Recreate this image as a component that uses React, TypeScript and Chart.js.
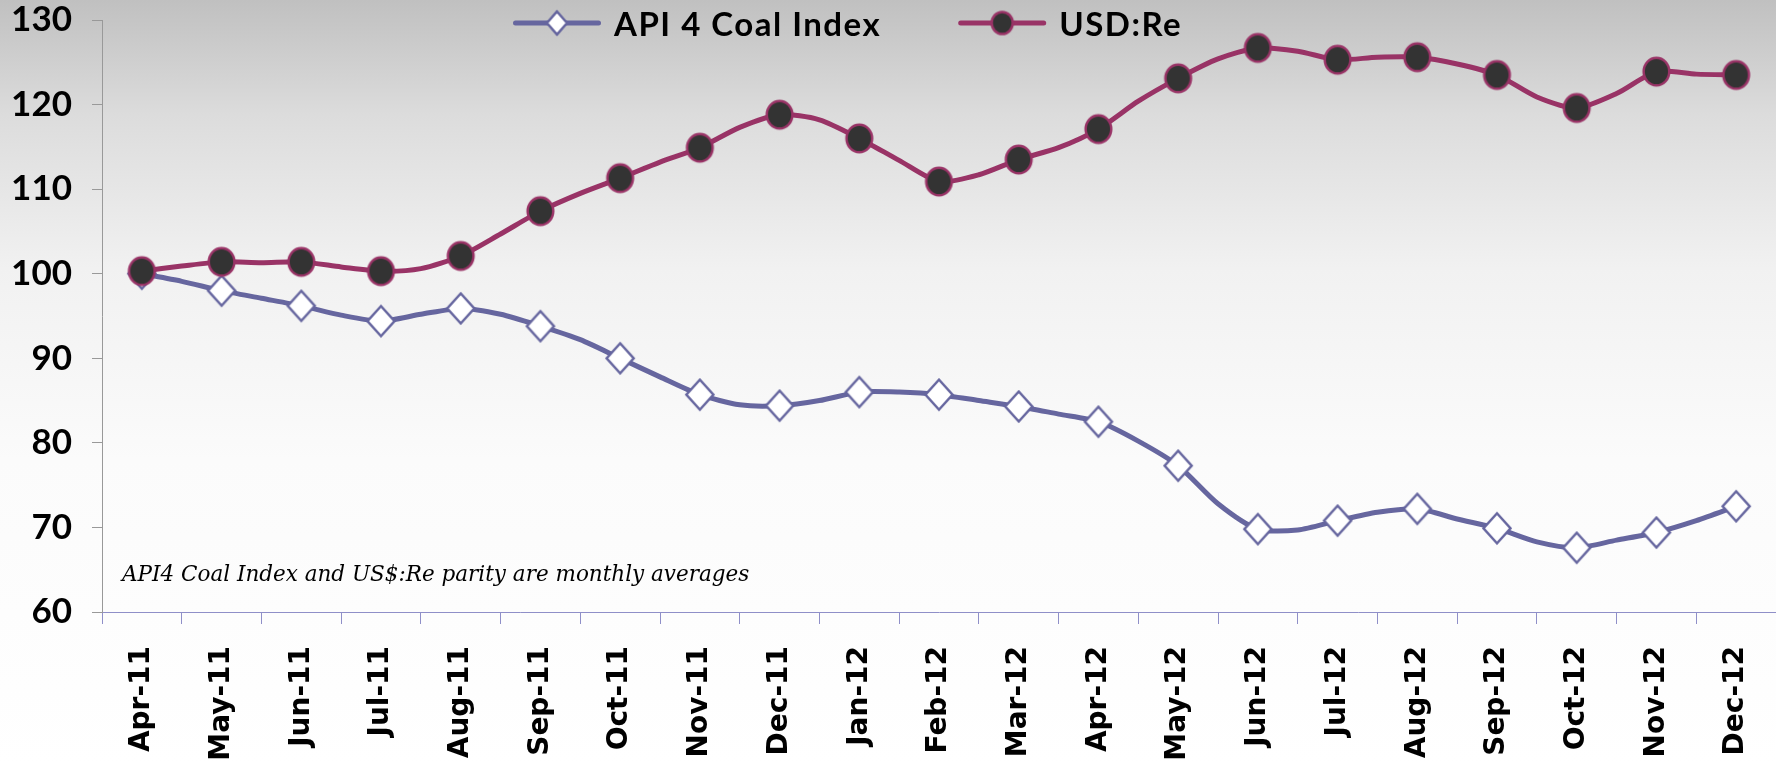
import React, { useEffect, useRef } from 'react';
import { Chart, registerables } from 'chart.js';

Chart.register(...registerables);

// ---- data ----
const months = [
  'Apr-11', 'May-11', 'Jun-11', 'Jul-11', 'Aug-11', 'Sep-11', 'Oct-11', 'Nov-11', 'Dec-11',
  'Jan-12', 'Feb-12', 'Mar-12', 'Apr-12', 'May-12', 'Jun-12', 'Jul-12', 'Aug-12', 'Sep-12',
  'Oct-12', 'Nov-12', 'Dec-12',
];

// monthly (marked) values
const coalMonthly = [100.0, 98.0, 96.2, 94.4, 95.9, 93.8, 90.0, 85.7, 84.4, 86.0, 85.7, 84.3, 82.5, 77.3, 69.8, 70.8, 72.2, 69.9, 67.6, 69.4, 72.5];
// mid-month (unmarked) values between consecutive months
const coalMid = [99.1, 97.1, 95.1, 95.2, 95.2, 92.2, 87.8, 84.5, 85.0, 86.0, 85.0, 83.4, 80.2, 72.8, 69.7, 71.8, 71.0, 68.3, 68.5, 70.8];

const usdMonthly = [100.3, 101.4, 101.4, 100.3, 102.1, 107.4, 111.3, 114.9, 118.8, 116.0, 110.9, 113.5, 117.1, 123.1, 126.7, 125.3, 125.6, 123.5, 119.6, 123.9, 123.5];
const usdMid = [100.9, 101.3, 100.8, 100.6, 104.7, 109.5, 113.2, 117.3, 118.2, 113.4, 111.7, 114.9, 120.4, 125.4, 126.3, 125.6, 124.8, 120.9, 121.3, 123.6];

const seriesLabels = ['API 4 Coal Index', 'USD:Re'];
const yTicksMin = 60;
const yTicksMax = 130;
const yTickStep = 10;
const note = 'API4 Coal Index and US$:Re parity are monthly averages';

// ---- styles ----
const COAL_COLOR = '#66669f';
const USD_COLOR = '#993366';
const DOT_FILL = '#333333';

function buildPoints(monthly: number[], mid: number[]) {
  const pts: { x: number; y: number }[] = [];
  monthly.forEach((v, i) => {
    pts.push({ x: i, y: v });
    if (i < mid.length) pts.push({ x: i + 0.5, y: mid[i] });
  });
  return pts;
}

function radii(monthly: number[], mid: number[], r: number) {
  const out: number[] = [];
  monthly.forEach((_, i) => {
    out.push(r);
    if (i < mid.length) out.push(0);
  });
  return out;
}

function diamondImg(a: number, b: number, lw: number, stroke: string, fill: string) {
  const c = document.createElement('canvas');
  c.width = Math.ceil(2 * a + lw * 2 + 2);
  c.height = Math.ceil(2 * b + lw * 2 + 2);
  const x = c.getContext('2d')!;
  const cx = c.width / 2;
  const cy = c.height / 2;
  x.beginPath();
  x.moveTo(cx, cy - b);
  x.lineTo(cx + a, cy);
  x.lineTo(cx, cy + b);
  x.lineTo(cx - a, cy);
  x.closePath();
  x.fillStyle = fill;
  x.fill();
  x.lineWidth = lw;
  x.strokeStyle = stroke;
  x.lineJoin = 'miter';
  x.stroke();
  return c;
}

function ellipseImg(rx: number, ry: number, lw: number, stroke: string, fill: string) {
  const c = document.createElement('canvas');
  c.width = Math.ceil(2 * rx + lw + 2);
  c.height = Math.ceil(2 * ry + lw + 2);
  const x = c.getContext('2d')!;
  x.beginPath();
  x.ellipse(c.width / 2, c.height / 2, rx, ry, 0, 0, Math.PI * 2);
  x.fillStyle = fill;
  x.fill();
  x.lineWidth = lw;
  x.strokeStyle = stroke;
  x.stroke();
  return c;
}

export default function App() {
  const ref = useRef<HTMLCanvasElement>(null);

  useEffect(() => {
    document.body.style.margin = '0';
    document.body.style.overflow = 'hidden';
    document.documentElement.style.overflow = 'hidden';
    const canvas = ref.current;
    if (!canvas) return;

    const coalMarker = diamondImg(13.5, 15, 2.5, COAL_COLOR, '#ffffff');
    const usdMarker = ellipseImg(12.8, 13.8, 2.5, USD_COLOR, DOT_FILL);
    const legendMarkers = [
      diamondImg(10, 11.5, 2.5, COAL_COLOR, '#ffffff'),
      ellipseImg(10.5, 11, 2.5, USD_COLOR, DOT_FILL),
    ];

    const bgPlugin = {
      id: 'bgGradient',
      beforeDraw(chart: any) {
        const { ctx, width, height } = chart;
        const g = ctx.createLinearGradient(0, 0, 0, height);
        g.addColorStop(0, '#c0c0c0');
        g.addColorStop(0.15, '#dcdcdc');
        g.addColorStop(0.35, '#f1f1f1');
        g.addColorStop(0.6, '#fbfbfb');
        g.addColorStop(1, '#ffffff');
        ctx.save();
        ctx.fillStyle = g;
        ctx.fillRect(0, 0, width, height);
        ctx.restore();
      },
    };

    const overlayPlugin = {
      id: 'overlay',
      afterDraw(chart: any) {
        const ctx = chart.ctx as CanvasRenderingContext2D;
        ctx.save();
        // note
        ctx.font = 'italic 21.5px "DejaVu Serif"';
        ctx.fillStyle = '#000';
        ctx.textBaseline = 'alphabetic';
        ctx.textAlign = 'left';
        ctx.fillText(note, chart.chartArea.left + 20, 581);

        // legend
        const ds = chart.data.datasets;
        let x = 513;
        const y = 23;
        ctx.font = 'bold 33px Lato';
        (ctx as any).letterSpacing = '1.5px';
        ds.forEach((d: any, i: number) => {
          ctx.strokeStyle = d.borderColor;
          ctx.lineWidth = 5;
          ctx.lineCap = 'round';
          ctx.beginPath();
          ctx.moveTo(x + 2.5, y);
          ctx.lineTo(x + 85.5, y);
          ctx.stroke();
          const m = legendMarkers[i];
          ctx.drawImage(m, x + 44 - m.width / 2, y - m.height / 2);
          ctx.fillStyle = '#000';
          ctx.fillText(d.label, x + 88 + 13, 36);
          x += 88 + 13 + ctx.measureText(d.label).width + 77;
        });
        ctx.restore();
      },
    };

    const chart = new Chart(canvas, {
      type: 'line',
      data: {
        datasets: [
          {
            label: seriesLabels[0],
            data: buildPoints(coalMonthly, coalMid),
            xAxisID: 'xd',
            borderColor: COAL_COLOR,
            borderWidth: 5,
            borderJoinStyle: 'round',
            borderCapStyle: 'round',
            tension: 0.25,
            pointStyle: coalMarker as any,
            pointRadius: radii(coalMonthly, coalMid, 13),
            order: 1,
          },
          {
            label: seriesLabels[1],
            data: buildPoints(usdMonthly, usdMid),
            xAxisID: 'xd',
            borderColor: USD_COLOR,
            borderWidth: 5,
            borderJoinStyle: 'round',
            borderCapStyle: 'round',
            tension: 0.25,
            pointStyle: usdMarker as any,
            pointRadius: radii(usdMonthly, usdMid, 13),
            order: 0,
          },
        ],
      },
      options: {
        animation: false,
        responsive: true,
        maintainAspectRatio: false,
        events: [],
        layout: { autoPadding: false, padding: { top: 20, left: 0, right: 0, bottom: 0 } },
        plugins: {
          legend: { display: false },
          tooltip: { enabled: false },
        },
        scales: {
          x: {
            type: 'category',
            labels: months,
            offset: true,
            position: 'bottom',
            grid: {
              offset: true,
              drawOnChartArea: false,
              drawTicks: true,
              tickLength: 12,
              color: '#8f8fc8',
              lineWidth: 1,
            },
            border: { display: true, color: '#8f8fc8', width: 1 },
            ticks: {
              autoSkip: false,
              maxRotation: 90,
              minRotation: 90,
              padding: 22,
              color: '#000',
              font: { family: '"DejaVu Sans"', weight: 'bold', size: 28, lineHeight: 1 },
            },
            afterFit(scale: any) {
              scale.height = 154;
              scale.paddingLeft = 0;
              scale.paddingRight = 0;
            },
          },
          xd: {
            type: 'linear',
            display: false,
            min: -0.5,
            max: months.length - 0.5,
          },
          y: {
            type: 'linear',
            min: yTicksMin,
            max: yTicksMax,
            position: 'left',
            grid: {
              drawOnChartArea: false,
              drawTicks: true,
              tickLength: 10,
              color: '#999999',
            },
            border: { display: true, color: '#999999', width: 1 },
            ticks: {
              stepSize: yTickStep,
              padding: 20,
              color: '#000',
              font: { family: 'Lato', weight: 'bold', size: 35, lineHeight: 1 },
            },
            afterFit(scale: any) {
              scale.width = 102;
              scale.paddingTop = 0;
              scale.paddingBottom = 0;
            },
          },
        },
      } as any,
      plugins: [bgPlugin, overlayPlugin],
    });

    return () => chart.destroy();
  }, []);

  return (
    <div style={{ position: 'relative', width: '1776px', height: '766px', overflow: 'hidden' }}>
      <canvas ref={ref} style={{ display: 'block' }} />
    </div>
  );
}
